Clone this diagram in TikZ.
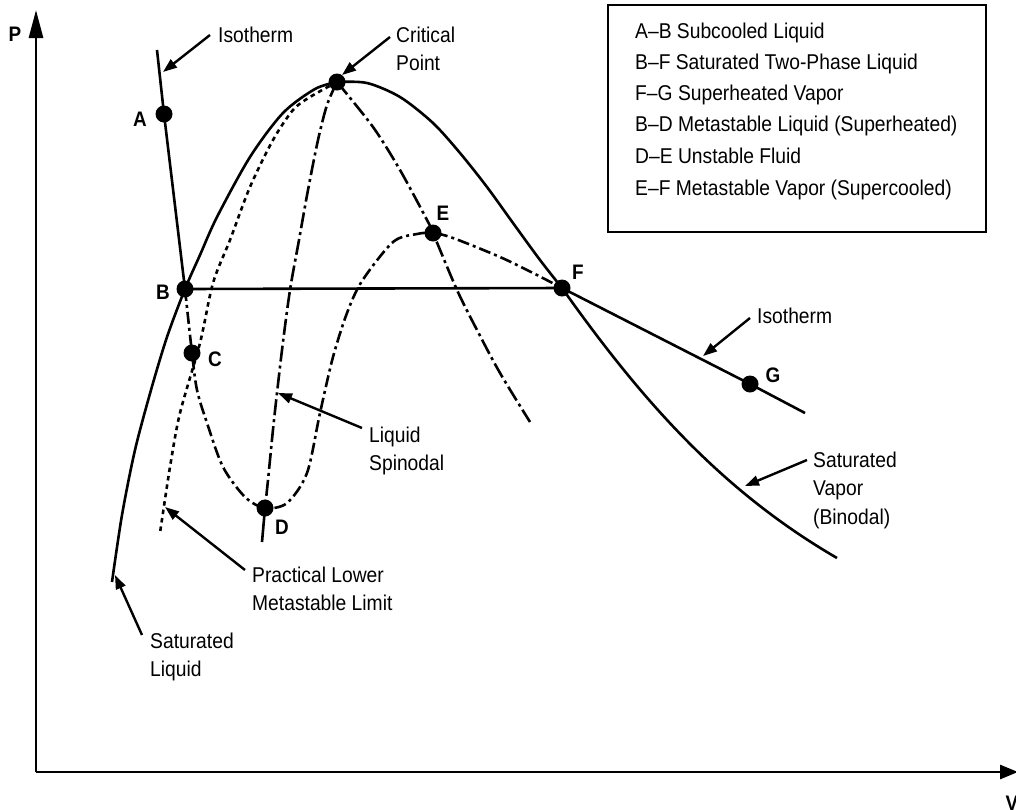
\documentclass[tikz,border=0pt]{standalone}
\usepackage{fontspec}
\setmainfont{Liberation Sans}[FakeStretch=0.9]
\usetikzlibrary{arrows.meta}
\begin{document}
\begin{tikzpicture}[x=1pt,y=-1pt,
  every node/.style={font=\fontsize{21.4}{28.5}\selectfont, inner sep=0pt},
  axisline/.style={line width=2.8pt, -{Triangle[length=28pt,width=14pt]}},
  curve/.style={line width=2.6pt, line join=round},
  limitline/.style={line width=2.6pt, dash pattern=on 4.5pt off 4pt},
  spinline/.style={line width=2.6pt, dash pattern=on 16pt off 4pt on 3pt off 4pt},
  metaline/.style={line width=2.6pt, dash pattern=on 12pt off 4pt on 3pt off 4pt},
  lblarrow/.style={line width=2.4pt, -{Triangle[length=14pt,width=10pt]}},
  dot/.style={circle, fill=black, minimum size=17pt, inner sep=0pt},
  letter/.style={font=\fontsize{21}{23}\selectfont\bfseries},
  multilbl/.style={align=left, anchor=north west},
  legendtxt/.style={anchor=base west}
]
\useasboundingbox (0,0) rectangle (1016,809);

% axes
\coordinate (O) at (36,772);
\coordinate (Ptop) at (36,10);
\coordinate (Vend) at (1018,772);
\draw[axisline] (O) -- (Ptop);
\draw[line width=2.8pt, -{Triangle[length=18pt,width=14pt]}] (O) -- (Vend);
\node[letter] (Plbl) at (15,34) {P};
\node[letter] (Vlbl) at (1012,803) {V};

% key points
\coordinate (CP) at (337,82);
\coordinate (A) at (164,114);
\coordinate (B) at (185,289);
\coordinate (C) at (192,353);
\coordinate (D) at (265,508);
\coordinate (E) at (433,233);
\coordinate (F) at (562,288);
\coordinate (G) at (750,384);
\coordinate (isoTop) at (157,50);
\coordinate (isoEnd) at (805,413);
\coordinate (Dtail) at (262,542);
\coordinate (vapEnd) at (837,558);

% saturated liquid
\draw[curve] plot[smooth] coordinates {(112,582) (122,515) (135,450) (151,390) (167,337) (B) (200,255) (217,217) (250,157) (283,113) (315,89) (CP)};
% saturated vapor
\draw[curve] plot[smooth] coordinates {(CP) (367,83) (400,97) (433,123) (460,153) (487,187) (513,223) (540,260) (F)};
\draw[curve] (F) .. controls (640,398) and (720,490) .. (vapEnd);
% isotherm A-B and F-G
\draw[curve] (isoTop) -- (A) -- (B);
\draw[curve] (F) -- (G) -- (isoEnd);
\draw[curve] (B) -- (F);
% practical lower metastable limit
\draw[limitline] plot[smooth] coordinates {(CP) (310,97) (293,110) (273,140) (250,187) (230,240) (213,283) (200,343) (180,413) (170,467) (160,533)};
% liquid spinodal
\draw[spinline] plot[smooth] coordinates {(CP) (327,105) (318,140) (308,190) (299,240) (290,290) (282,350) (274,420) (268,480) (D)};
\draw[curve] (D) -- (Dtail);
% vapor spinodal
\draw[spinline] plot[smooth] coordinates {(CP) (373,127) (400,170) (427,220) (E) (457,290) (477,330) (500,373) (530,422)};
% metastable isotherm
\draw[metaline] plot[smooth] coordinates {(B) (C) (197,390) (207,423) (223,467) (245,497) (D) (287,503) (307,473) (320,413) (333,357) (347,313) (362,281) (393,242) (417,234) (E) (453,238) (500,257) (533,273) (F)};

% dots
\foreach \p in {CP,A,B,C,D,E,F,G} \node[dot] (dot\p) at (\p) {};

% letters
\node[letter] (lA) at (140,119) {A};
\node[letter] (lB) at (163,292) {B};
\node[letter] (lC) at (215,359) {C};
\node[letter] (lD) at (282,527) {D};
\node[letter] (lE) at (443,213) {E};
\node[letter] (lF) at (578,272) {F};
\node[letter] (lG) at (773,375) {G};

% labels with arrows
\node[legendtxt] (isoL) at (218,42) {Isotherm};
\coordinate (isoLs) at (210,35); \coordinate (isoLt) at (163,72);
\draw[lblarrow] (isoLs) -- (isoLt);

\node[multilbl] (cpL) at (396,26.4) {Critical\\Point};
\coordinate (cpLs) at (390,37); \coordinate (cpLt) at (342,75);
\draw[lblarrow] (cpLs) -- (cpLt);

\node[legendtxt] (isoR) at (757,323) {Isotherm};
\coordinate (isoRs) at (750,318); \coordinate (isoRt) at (703,356);
\draw[lblarrow] (isoRs) -- (isoRt);

\node[multilbl] (spL) at (369,426.4) {Liquid\\Spinodal};
\coordinate (spLs) at (362,428); \coordinate (spLt) at (278,393);
\draw[lblarrow] (spLs) -- (spLt);

\node[multilbl] (plL) at (252,566.4) {Practical Lower\\Metastable Limit};
\coordinate (plLs) at (245,570); \coordinate (plLt) at (165,507);
\draw[lblarrow] (plLs) -- (plLt);

\node[multilbl] (slL) at (150,632.4) {Saturated\\Liquid};
\coordinate (slLs) at (142,635); \coordinate (slLt) at (115,575);
\draw[lblarrow] (slLs) -- (slLt);

\node[multilbl] (svL) at (813,451.4) {Saturated\\Vapor\\(Binodal)};
\coordinate (svLs) at (807,460); \coordinate (svLt) at (745,486);
\draw[lblarrow] (svLs) -- (svLt);

% legend
\draw[line width=1.3pt] (608,5) rectangle (986,232);
\node[legendtxt] (k1) at (635,38) {A–B Subcooled Liquid};
\node[legendtxt] (k2) at (635,69) {B–F Saturated Two-Phase Liquid};
\node[legendtxt] (k3) at (635,100) {F–G Superheated Vapor};
\node[legendtxt] (k4) at (635,131) {B–D Metastable Liquid (Superheated)};
\node[legendtxt] (k5) at (635,163) {D–E Unstable Fluid};
\node[legendtxt] (k6) at (635,195) {E–F Metastable Vapor (Supercooled)};
\end{tikzpicture}
\end{document}
